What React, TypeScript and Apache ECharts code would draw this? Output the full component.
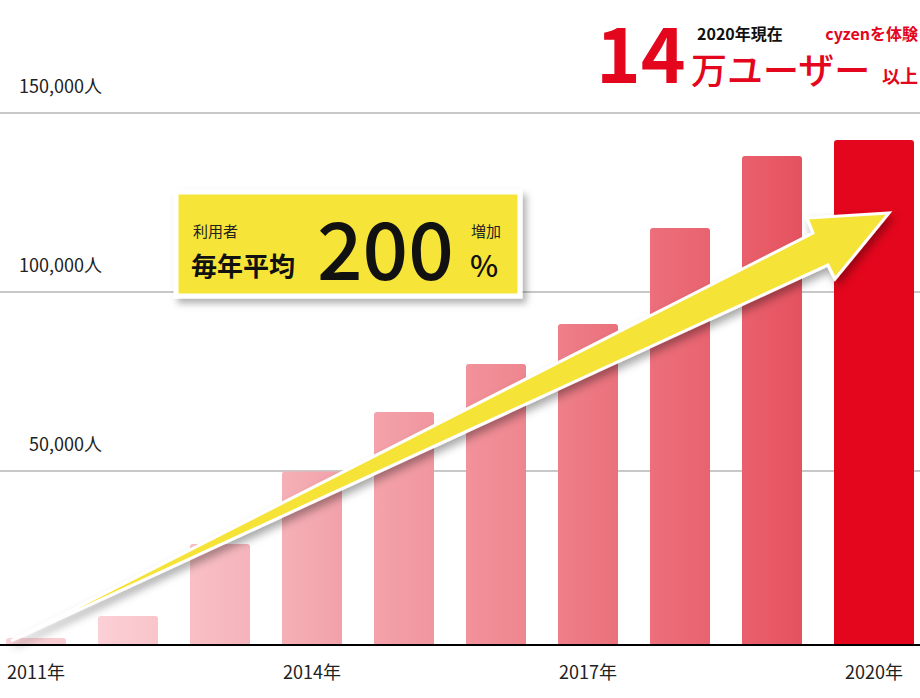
import React, { useEffect, useRef } from 'react';
import * as echarts from 'echarts';

const years = ['2011年', '2012年', '2013年', '2014年', '2015年', '2016年', '2017年', '2018年', '2019年', '2020年'];
const users = [3300, 9400, 29500, 49800, 66400, 79800, 91000, 117800, 137900, 142400];
const labelYears = ['2011年', '2014年', '2017年', '2020年'];
const barColorsLeft = ['#fad3d8', '#fbd0d6', '#f8c0c5', '#f5b0b6', '#f4a2aa', '#f2929b', '#ee7f89', '#ec6f7b', '#e9606c', '#e3061c'];
const barColorsRight = ['#f8ccd1', '#f8c4ca', '#f5b3ba', '#f2a1a9', '#f0969f', '#ee868f', '#ea717c', '#e8636f', '#e5525f', '#e3061c'];

const RED = '#e3061c';
const FONT = '"Noto Sans CJK JP", "Noto Sans", sans-serif';

export default function App() {
  const ref = useRef<HTMLDivElement>(null);

  useEffect(() => {
    if (!ref.current) return;
    const chart = echarts.init(ref.current, undefined, { renderer: 'svg' });
    const last = users.length - 1;

    const gradient = (i: number) =>
      new echarts.graphic.LinearGradient(0, 0, 1, 0, [
        { offset: 0, color: barColorsLeft[i] },
        { offset: 1, color: barColorsRight[i] },
      ]);

    const yBase = { type: 'value', max: 155000, show: false };

    const option: any = {
      animation: false,
      backgroundColor: '#ffffff',
      textStyle: { fontFamily: FONT },
      grid: [
        { left: 0, right: 0, top: 94.8, bottom: 48.3, outerBoundsMode: 'none', containLabel: false },
        { left: -10, right: 10, top: 94.8, bottom: 53.5, outerBoundsMode: 'none', containLabel: false },
        { left: 0, right: 0, top: 94.8, bottom: 53.5, outerBoundsMode: 'none', containLabel: false },
      ],
      xAxis: [
        { type: 'category', gridIndex: 0, data: years, show: false },
        {
          type: 'category',
          gridIndex: 1,
          data: years,
          axisLine: { show: false },
          axisTick: { show: false },
          axisLabel: {
            interval: (i: number, v: string) => i < last && labelYears.includes(v),
            margin: 17,
            fontSize: 18,
            lineHeight: 18,
            color: '#222',
            fontFamily: FONT,
          },
        },
        {
          type: 'category',
          gridIndex: 2,
          data: years,
          z: 5,
          axisLine: { show: true, onZero: false, lineStyle: { color: '#000', width: 2 } },
          axisTick: { show: false },
          axisLabel: {
            interval: (i: number, v: string) => i === last && labelYears.includes(v),
            margin: 17,
            fontSize: 18,
            lineHeight: 18,
            color: '#222',
            fontFamily: FONT,
          },
        },
      ],
      yAxis: [
        {
          type: 'value',
          gridIndex: 0,
          min: 0,
          max: 155000,
          interval: 50000,
          axisLine: { show: false },
          axisTick: { show: false },
          splitLine: {
            show: true,
            showMinLine: false,
            showMaxLine: false,
            lineStyle: { color: '#c8c8c8', width: 2 },
          },
          axisLabel: {
            inside: true,
            showMinLabel: false,
            showMaxLabel: false,
            margin: 102,
            align: 'right',
            verticalAlign: 'bottom',
            padding: [0, 0, 19, 0],
            lineHeight: 18,
            fontSize: 18,
            color: '#222',
            fontFamily: FONT,
            formatter: (v: number) => (v === 0 || v % 50000 !== 0 ? '' : v.toLocaleString('en-US') + '人'),
          },
        },
        { ...yBase, gridIndex: 1, min: 1450 },
        { ...yBase, gridIndex: 2, min: 1450 },
      ],
      series: [
        {
          type: 'bar',
          xAxisIndex: 1,
          yAxisIndex: 1,
          barWidth: 60,
          clip: true,
          data: users.map((v, i) =>
            i === last ? '-' : { value: v, itemStyle: { color: gradient(i), borderRadius: [3, 3, 0, 0] } }
          ),
        },
        {
          type: 'bar',
          xAxisIndex: 2,
          yAxisIndex: 2,
          barWidth: 80,
          clip: true,
          data: users.map((v, i) =>
            i === last ? { value: v, itemStyle: { color: gradient(i), borderRadius: [3, 3, 0, 0] } } : '-'
          ),
        },
      ],
      graphic: [
        {
          type: 'polygon',
          z: 100,
          shape: {
            points: [
              [11, 641],
              [813, 233],
              [807, 218],
              [889, 213],
              [835, 279],
              [828, 265],
            ],
          },
          style: {
            fill: '#f6e338',
            stroke: '#ffffff',
            lineWidth: 3,
            lineJoin: 'miter',
            shadowBlur: 8,
            shadowOffsetX: 3,
            shadowOffsetY: 5,
            shadowColor: 'rgba(0,0,0,0.35)',
          },
        },
        {
          type: 'rect',
          z: 100,
          shape: { x: 176, y: 192, width: 344, height: 104 },
          style: {
            fill: '#f7e437',
            stroke: '#ffffff',
            lineWidth: 5,
            shadowBlur: 7,
            shadowOffsetX: 4,
            shadowOffsetY: 5,
            shadowColor: 'rgba(0,0,0,0.3)',
          },
        },
        { type: 'text', z: 101, style: { x: 193, y: 230, text: '利用者', fontSize: 15, fontFamily: FONT, fill: '#222', textAlign: 'left', textVerticalAlign: 'middle' } },
        { type: 'text', z: 101, style: { x: 191, y: 264, text: '毎年平均', fontSize: 26, fontWeight: 'bold', fontFamily: FONT, fill: '#111', textAlign: 'left', textVerticalAlign: 'middle' } },
        { type: 'text', z: 101, style: { x: 317, y: 245, text: '200', fontSize: 80, fontWeight: 500, fontFamily: FONT, fill: '#111', textAlign: 'left', textVerticalAlign: 'middle' } },
        { type: 'text', z: 101, style: { x: 471, y: 230, text: '増加', fontSize: 15, fontFamily: FONT, fill: '#222', textAlign: 'left', textVerticalAlign: 'middle' } },
        { type: 'text', z: 101, style: { x: 470, y: 264, text: '%', fontSize: 30, fontWeight: 500, fontFamily: FONT, fill: '#111', textAlign: 'left', textVerticalAlign: 'middle' } },

        { type: 'text', z: 101, style: { x: 596, y: 50, text: '14', fontSize: 76, fontWeight: 'bold', fontFamily: FONT, fill: RED, textAlign: 'left', textVerticalAlign: 'middle' } },
        { type: 'text', z: 101, style: { x: 697, y: 33, text: '2020年現在', fontSize: 16, fontWeight: 'bold', fontFamily: FONT, fill: '#111', textAlign: 'left', textVerticalAlign: 'middle' } },
        { type: 'text', z: 101, style: { x: 691, y: 68, text: '万ユーザー', fontSize: 36, fontWeight: 500, fontFamily: FONT, fill: RED, textAlign: 'left', textVerticalAlign: 'middle' } },
        { type: 'text', z: 101, style: { x: 918, y: 33, text: 'cyzenを体験', fontSize: 16, fontWeight: 'bold', fontFamily: FONT, fill: RED, textAlign: 'right', textVerticalAlign: 'middle' } },
        { type: 'text', z: 101, style: { x: 918, y: 75, text: '以上', fontSize: 18, fontWeight: 'bold', fontFamily: FONT, fill: RED, textAlign: 'right', textVerticalAlign: 'middle' } },
      ],
    };

    chart.setOption(option);
    return () => chart.dispose();
  }, []);

  return (
    <div
      ref={ref}
      style={{ position: 'fixed', left: 0, top: 0, width: 920, height: 698, background: '#fff' }}
    />
  );
}
